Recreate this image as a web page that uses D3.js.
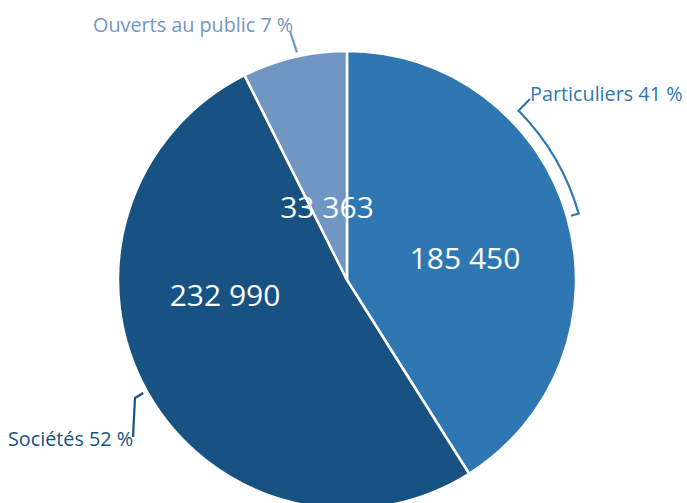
<!DOCTYPE html>
<html>
<head>
<meta charset="utf-8">
<script src="https://cdn.jsdelivr.net/npm/d3@7"></script>
<style>
  body { margin: 0; background: #fff; }
  text { font-family: "Open Sans", sans-serif; }
</style>
</head>
<body>
<svg id="chart" width="687" height="503"></svg>
<script>
// data
var categories = ["Particuliers", "Sociétés", "Ouverts au public"];
var values = [185450, 232990, 33363];
var valueLabels = ["185 450", "232 990", "33 363"];
var percentLabels = ["41 %", "52 %", "7 %"];
var colors = ["#2e77b2", "#185282", "#7097c4"];

var width = 687, height = 503;
var cx = 347, cy = 280, radius = 229;

var svg = d3.select("#chart");
var g = svg.append("g").attr("transform", "translate(" + cx + "," + cy + ")");

var slices = categories.map(function (c, i) {
    return {name: c, value: values[i], label: valueLabels[i], pct: percentLabels[i], color: colors[i]};
});

var pie = d3.pie().sort(null).value(function (d) { return d.value; });
var arcs = pie(slices);

var arc = d3.arc().innerRadius(0).outerRadius(radius);

g.selectAll(".slice")
    .data(arcs)
    .enter().append("path")
    .attr("class", "slice")
    .attr("d", arc)
    .attr("fill", function (d) { return d.data.color; })
    .attr("stroke", "#fff")
    .attr("stroke-width", 2.5)
    .attr("stroke-linejoin", "round");

// value labels (offset from center, hand placed like the original)
var valuePos = [[118, -11], [-122, 26], [-20, -62]];
g.selectAll(".val")
    .data(arcs)
    .enter().append("text")
    .attr("class", "val")
    .attr("x", function (d, i) { return valuePos[i][0]; })
    .attr("y", function (d, i) { return valuePos[i][1]; })
    .attr("text-anchor", "middle")
    .attr("font-size", 30)
    .attr("fill", "#fff")
    .text(function (d) { return d.data.label; });

// leaders
var rad = Math.PI / 180;
function pt(r, deg) { return d3.pointRadial(deg * rad, r); }

// Particuliers: bracket arc
var p = d3.path();
var a0 = 45.4, a1 = 74;
var s = pt(241, a0), ei = pt(233, a1);
p.moveTo(183, -181);
p.lineTo(s[0], s[1]);
p.arc(0, 0, 241, (a0 - 90) * rad, (a1 - 90) * rad, false);
p.lineTo(ei[0], ei[1]);
g.append("path").attr("d", p.toString())
    .attr("fill", "none").attr("stroke", colors[0]).attr("stroke-width", 2.2);

// Sociétés
g.append("path")
    .attr("d", d3.line()([pt(233, 241), [-212, 118], [-214, 157]]))
    .attr("fill", "none").attr("stroke", colors[1]).attr("stroke-width", 2.2);

// Ouverts au public
g.append("path")
    .attr("d", d3.line()([pt(233, 347.6), [-57, -249]]))
    .attr("fill", "none").attr("stroke", colors[2]).attr("stroke-width", 2.2);

// category labels
var catPos = [[530, 101], [8, 446], [93, 32]];
svg.selectAll(".cat")
    .data(arcs)
    .enter().append("text")
    .attr("class", "cat")
    .attr("x", function (d, i) { return catPos[i][0]; })
    .attr("y", function (d, i) { return catPos[i][1]; })
    .attr("font-size", 19.8)
    .attr("fill", function (d) { return d.data.color; })
    .text(function (d) { return d.data.name + " " + d.data.pct; });
</script>
</body>
</html>
